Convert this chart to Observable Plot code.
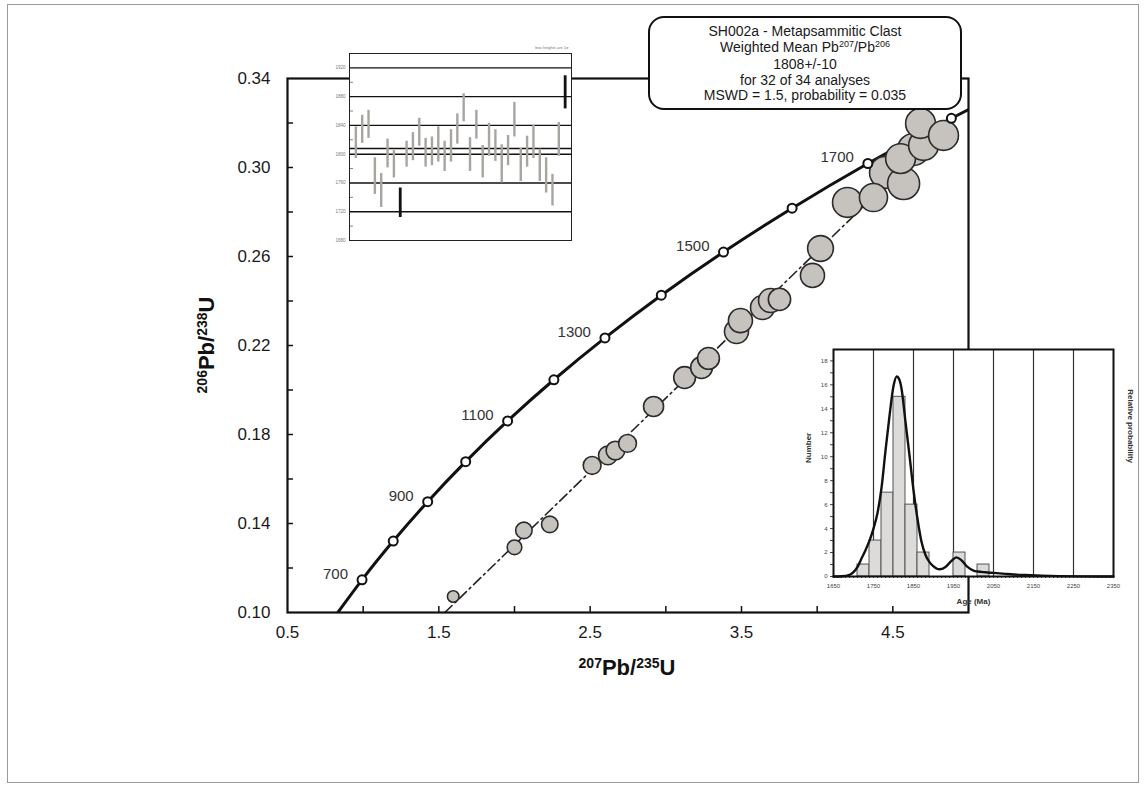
<!DOCTYPE html>
<html>
<head>
<meta charset="utf-8">
<script src="https://cdn.jsdelivr.net/npm/d3@7"></script>
<script src="https://cdn.jsdelivr.net/npm/@observablehq/plot@0.6"></script>
<style>
  body { margin: 0; background: #fff; font-family: "Liberation Sans", Arial, Helvetica, sans-serif; }
  #wrap { position: relative; width: 1147px; height: 787px; overflow: hidden; background: #fff; }
  #wrap > svg, #wrap > div { position: absolute; }
  .border { left: 7px; top: 4px; width: 1132px; height: 779px; border: 1px solid #9a9a9a; box-sizing: border-box; }
  .tbox { left: 648px; top: 16px; width: 314px; height: 94px; box-sizing: border-box; border: 2.5px solid #111;
          border-radius: 16px; background: #fff; text-align: center; font-size: 14px; line-height: 15.6px;
          padding-top: 6px; color: #1a1a1a; }
  .tbox sup { font-size: 9px; vertical-align: 0; position: relative; top: -5px; }
  .atitle { font-weight: bold; font-size: 22px; line-height: 26px; height: 26px; text-align: center; color: #111; white-space: nowrap; }
  .atitle span { font-size: 14px; position: relative; top: -7px; }
</style>
</head>
<body>
<div id="wrap">
  <div class="border"></div>
</div>
<script>
// ---------- Data: concordia (age Ma, 207Pb/235U, 206Pb/238U) ----------
const concAge = [600, 700, 800, 900, 1000, 1100, 1200, 1300, 1400, 1500, 1600, 1700, 1800, 1900];
const concX   = [0.8056, 0.9925, 1.1987, 1.4263, 1.6774, 1.9545, 2.2603, 2.5977, 2.9701, 3.3810, 3.8344, 4.3348, 4.8869, 5.4962];
const concY   = [0.0975, 0.1147, 0.1321, 0.1498, 0.1678, 0.1861, 0.2046, 0.2234, 0.2426, 0.2620, 0.2817, 0.3018, 0.3221, 0.3428];
const concLabelAges = [700, 900, 1100, 1300, 1500, 1700];

// discordia (dash-dot) end points
const discX = [1.54, 4.93];
const discY = [0.100, 0.3237];

// analyses: 207Pb/235U, 206Pb/238U, error (in 206Pb/238U units)
const ellX = [1.595, 2.000, 2.062, 2.233, 2.513, 2.617, 2.667, 2.747, 2.919, 3.124, 3.236, 3.282, 3.467, 3.493, 3.639, 3.692, 3.751, 3.969, 4.022, 4.200, 4.372, 4.551, 4.703, 4.452, 4.571, 4.637, 4.683, 4.835];
const ellY = [0.1072, 0.1293, 0.1369, 0.1396, 0.1661, 0.1706, 0.1728, 0.1760, 0.1926, 0.2056, 0.2101, 0.2142, 0.2263, 0.2312, 0.2371, 0.2402, 0.2407, 0.2515, 0.2636, 0.2843, 0.2865, 0.3040, 0.3099, 0.2978, 0.2928, 0.3081, 0.3198, 0.3144];
const ellE = [0.0026, 0.0033, 0.0037, 0.0037, 0.0040, 0.0042, 0.0042, 0.0040, 0.0045, 0.0049, 0.0049, 0.0049, 0.0054, 0.0054, 0.0054, 0.0054, 0.0050, 0.0054, 0.0058, 0.0067, 0.0063, 0.0067, 0.0067, 0.0072, 0.0072, 0.0072, 0.0067, 0.0067];

// main axes
const xLabels = [0.5, 1.5, 2.5, 3.5, 4.5];
const xTicks  = [1.0, 1.5, 2.0, 2.5, 3.0, 3.5, 4.0, 4.5];
const yLabels = [0.10, 0.14, 0.18, 0.22, 0.26, 0.30, 0.34];
const yTicks  = [0.12, 0.14, 0.16, 0.18, 0.20, 0.22, 0.24, 0.26, 0.28, 0.30, 0.32];

// ---------- Inset 1: weighted mean (ages, Ma) ----------
const wmLo  = [1794, 1815, 1822, 1744, 1726, 1781, 1767, 1712, 1782, 1791, 1811, 1782, 1784, 1789, 1776, 1789, 1814, 1845, 1776, 1821, 1767, 1797, 1790, 1760, 1784, 1824, 1762, 1782, 1794, 1762, 1746, 1728, 1797, 1863];
const wmHi  = [1838, 1854, 1861, 1795, 1773, 1821, 1805, 1753, 1818, 1830, 1850, 1822, 1824, 1838, 1818, 1834, 1856, 1884, 1823, 1861, 1812, 1843, 1834, 1813, 1826, 1872, 1808, 1825, 1840, 1807, 1795, 1772, 1844, 1909];
const wmRejected = [8, 34];
const wmMean = 1808;
const wmLabels = [1680, 1720, 1760, 1800, 1840, 1880, 1920];
const wmGrid = [1720, 1760, 1800, 1840, 1880, 1920];
const wmMinor = [1700, 1740, 1780, 1820, 1860, 1900];

// ---------- Inset 2: histogram + probability curve ----------
const binStart = [1710, 1740, 1770, 1800, 1830, 1860, 1950, 2010];
const binEnd   = [1740, 1770, 1800, 1830, 1860, 1890, 1980, 2040];
const binCount = [1, 3, 7, 15, 6, 2, 2, 1];
const pdfAge = [1650, 1670, 1690, 1700, 1710, 1720, 1730, 1740, 1750, 1760, 1770, 1780, 1790, 1800, 1808, 1815, 1820, 1830, 1840, 1850, 1860, 1870, 1880, 1890, 1900, 1915, 1930, 1945, 1957, 1970, 1985, 2000, 2010, 2030, 2050, 2080, 2100, 2130, 2170, 2220, 2280, 2350];
const pdfVal = [0, 0.02, 0.14, 0.36, 0.8, 1.5, 2.2, 3.0, 4.0, 5.3, 7.4, 10.5, 13.4, 15.9, 16.7, 16.4, 15.7, 12.9, 10.1, 7.2, 4.8, 2.9, 1.8, 1.2, 0.85, 0.6, 0.8, 1.3, 1.6, 1.35, 0.8, 0.5, 0.42, 0.35, 0.3, 0.22, 0.17, 0.12, 0.07, 0.03, 0.01, 0];
const histXLabels = [1650, 1750, 1850, 1950, 2050, 2150, 2250, 2350];
const histGrid = [1750, 1850, 1950, 2050, 2150, 2250];

// ---------- Build tables ----------
const conc = concAge.map((a, i) => ({age: a, x: concX[i], y: concY[i]}));
const concMarks = conc.filter(d => d.age >= 700 && d.age <= 1800);
const concLabels = conc.filter(d => concLabelAges.includes(d.age));
const disc = discX.map((x, i) => ({x, y: discY[i]}));
const ells = ellX.map((x, i) => ({x, y: ellY[i], e: ellE[i]}));
const bars = wmLo.map((lo, i) => ({i: i + 1, lo, hi: wmHi[i], rej: wmRejected.includes(i + 1)}));
const hist = binStart.map((a, i) => ({a, b: binEnd[i], n: binCount[i]}));
const pdf = pdfAge.map((a, i) => ({a, p: pdfVal[i]}));

const FONT = '"Liberation Sans", Arial, Helvetica, sans-serif';
const wrap = document.getElementById("wrap");
const W = 1147, H = 787;
const L = 287, R = 968, T = 78, B = 612;

// ---------- Main concordia plot ----------
const main = Plot.plot({
  width: W, height: H,
  marginLeft: L, marginRight: W - R, marginTop: T, marginBottom: H - B,
  style: {fontFamily: FONT, fontSize: "17px", color: "#1a1a1a", background: "transparent", overflow: "visible"},
  x: {domain: [0.5, 5.0], ticks: xLabels, tickFormat: d3.format(".1f"), tickSize: 0, tickPadding: 13, label: null},
  y: {domain: [0.10, 0.34], ticks: yLabels, tickFormat: d3.format(".2f"), tickSize: 0, tickPadding: 17, label: null},
  r: {type: "linear", domain: [0, 0.01], range: [0, 22.25]},
  marks: [
    Plot.ruleX(xTicks, {x: d => d, insetTop: (B - T) - 6, strokeWidth: 1.5, stroke: "#111"}),
    Plot.ruleY(yTicks, {y: d => d, insetRight: (R - L) - 6, strokeWidth: 1.5, stroke: "#111"}),
    Plot.line(conc, {x: "x", y: "y", curve: "natural", strokeWidth: 3, stroke: "#111", clip: true}),
    Plot.line(disc, {x: "x", y: "y", strokeWidth: 1.6, stroke: "#222", strokeDasharray: "10,4,2,4"}),
    Plot.dot(ells, {x: "x", y: "y", r: "e", fill: "#c6c2be", stroke: "#2b2b2b", strokeWidth: 1.6}),
    Plot.dot(concMarks, {x: "x", y: "y", r: 4.5, fill: "white", stroke: "#111", strokeWidth: 2}),
    Plot.text(concLabels, {x: "x", y: "y", text: d => String(d.age), dx: -14, dy: -6, textAnchor: "end", fontSize: 15, fill: "#333"}),
    Plot.frame({stroke: "#111", strokeWidth: 2.2})
  ]
});
main.style.left = "0px"; main.style.top = "0px";
wrap.appendChild(main);

// ---------- Inset 1: weighted mean ----------
const in1 = Plot.plot({
  width: 260, height: 205,
  marginLeft: 29, marginRight: 9, marginTop: 13, marginBottom: 5,
  style: {fontFamily: FONT, fontSize: "4.5px", color: "#777", background: "transparent", overflow: "visible"},
  x: {domain: [0, 35], axis: null},
  y: {domain: [1680, 1940], ticks: wmLabels, tickFormat: d => String(d), tickSize: 0, tickPadding: 4, label: null},
  marks: [
    Plot.frame({fill: "white", stroke: "none"}),
    Plot.ruleY(wmGrid, {y: d => d, stroke: "#111", strokeWidth: 1.4}),
    Plot.ruleY([wmMean], {y: d => d, stroke: "#111", strokeWidth: 1.4}),
    Plot.ruleY(wmMinor, {y: d => d, insetRight: 218, stroke: "#666", strokeWidth: 0.8}),
    Plot.ruleX(bars.filter(d => !d.rej), {x: "i", y1: "lo", y2: "hi", stroke: "#a8a4a0", strokeWidth: 2.4}),
    Plot.ruleX(bars.filter(d => d.rej), {x: "i", y1: "lo", y2: "hi", stroke: "#111", strokeWidth: 2.8}),
    Plot.frame({stroke: "#222", strokeWidth: 1}),
    Plot.text(["box heights are 1σ"], {frameAnchor: "top-right", dy: -7, dx: -3, textAnchor: "end", fontSize: 4, fill: "#777"})
  ]
});
in1.style.left = "320px"; in1.style.top = "40px";
wrap.appendChild(in1);

// ---------- Inset 2: histogram ----------
const in2 = Plot.plot({
  width: 352, height: 275,
  marginLeft: 38, marginRight: 34, marginTop: 9, marginBottom: 39,
  style: {fontFamily: FONT, fontSize: "6px", color: "#444", background: "transparent", overflow: "visible"},
  x: {domain: [1650, 2350], ticks: d3.range(1650, 2351, 10), tickFormat: d => ((d - 1650) % 100 === 0 ? String(d) : ""), tickSize: 2, tickPadding: 5, label: null},
  y: {domain: [0, 18.95], ticks: d3.range(0, 19, 1), tickFormat: d => (d % 2 === 0 ? String(d) : ""), tickSize: 3, tickPadding: 3, label: null},
  marks: [
    Plot.frame({fill: "white", stroke: "none"}),
    Plot.ruleX(histGrid, {x: d => d, stroke: "#333", strokeWidth: 1.2}),
    Plot.rectY(hist, {x1: "a", x2: "b", y: "n", fill: "#dddbd9", stroke: "#555", strokeWidth: 1}),
    Plot.line(pdf, {x: "a", y: "p", curve: "monotone-x", stroke: "#111", strokeWidth: 2.4}),
    Plot.frame({stroke: "#111", strokeWidth: 2}),
    Plot.text(["Number"], {frameAnchor: "left", rotate: -90, dx: -25, fontWeight: "bold", fontSize: 8, fill: "#333"}),
    Plot.text(["Relative probability"], {frameAnchor: "right", rotate: 90, dx: 17, fontWeight: "bold", fontSize: 8, fill: "#333"}),
    Plot.text(["Age (Ma)"], {frameAnchor: "bottom", dy: 27, fontWeight: "bold", fontSize: 8, fill: "#333"})
  ]
});
in2.style.left = "795px"; in2.style.top = "340px";
wrap.appendChild(in2);

// ---------- Text box and axis titles ----------
const box = document.createElement("div");
box.className = "tbox";
box.innerHTML = "SH002a - Metapsammitic Clast<br>Weighted Mean Pb<sup>207</sup>/Pb<sup>206</sup><br>1808+/-10<br>for 32 of 34 analyses<br>MSWD = 1.5, probability = 0.035";
wrap.appendChild(box);

const xt = document.createElement("div");
xt.className = "atitle";
xt.style.left = "427px"; xt.style.top = "655px"; xt.style.width = "400px";
xt.innerHTML = "<span>207</span>Pb/<span>235</span>U";
wrap.appendChild(xt);

const yt = document.createElement("div");
yt.className = "atitle";
yt.style.left = "57px"; yt.style.top = "332px"; yt.style.width = "300px";
yt.style.transform = "rotate(-90deg)"; yt.style.transformOrigin = "150px 13px";
yt.innerHTML = "<span>206</span>Pb/<span>238</span>U";
wrap.appendChild(yt);
</script>
</body>
</html>
